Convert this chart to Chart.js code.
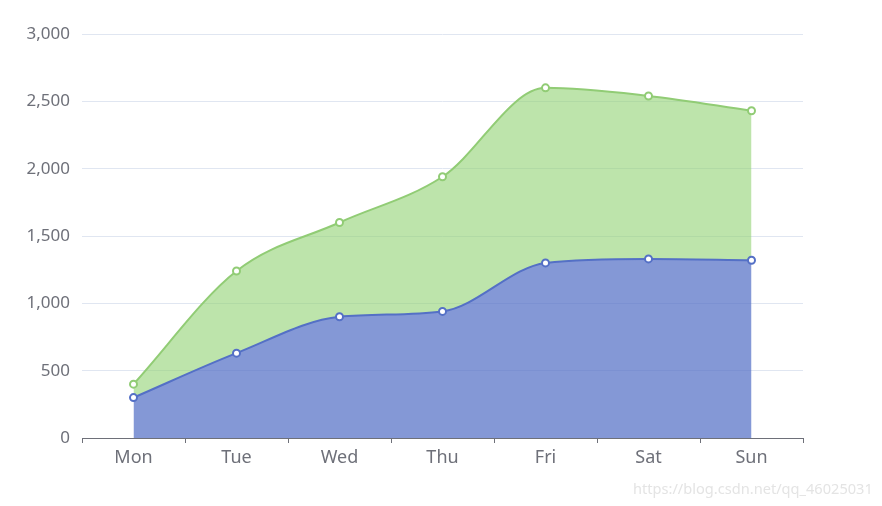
<!DOCTYPE html>
<html>
<head>
<meta charset="utf-8">
<script src="https://cdn.jsdelivr.net/npm/chart.js@4"></script>
<style>
html,body{margin:0;padding:0;background:#fff;}
#wrap{position:relative;width:882px;height:506px;}
#mark{position:absolute;left:633px;top:478px;font:14.6px "Noto Sans",sans-serif;color:#e4e4e4;white-space:nowrap;}
</style>
</head>
<body>
<div id="wrap"><canvas id="c" width="882" height="506"></canvas><div id="mark">https://blog.csdn.net/qq_46025031</div></div>
<script>
const categories = ['Mon','Tue','Wed','Thu','Fri','Sat','Sun'];
const seriesA = [300, 630, 900, 940, 1300, 1330, 1320];
const seriesB = [100, 610, 700, 1000, 1300, 1210, 1110];
const yTicks = [0, 500, 1000, 1500, 2000, 2500, 3000];

const stackedB = seriesB.map((v,i)=>v+seriesA[i]);
const FONT = '"Noto Sans", sans-serif';
const TXT = '#6E7079';

const common = {
  cubicInterpolationMode: 'monotone',
  borderWidth: 2,
  pointRadius: 3.5,
  pointBorderWidth: 2,
  pointBackgroundColor: '#fff'
};

new Chart(document.getElementById('c'), {
  type: 'line',
  data: {
    labels: categories,
    datasets: [
      Object.assign({
        data: seriesA,
        borderColor: '#5470C6',
        backgroundColor: 'rgba(84,112,198,0.72)',
        fill: 'origin',
        pointBorderColor: '#5470C6'
      }, common),
      Object.assign({
        data: stackedB,
        borderColor: '#91CC75',
        backgroundColor: 'rgba(145,210,115,0.6)',
        fill: '-1',
        pointBorderColor: '#91CC75'
      }, common)
    ]
  },
  options: {
    responsive: false,
    animation: false,
    events: [],
    layout: { padding: { left: 0, right: 79, top: 34, bottom: 0 } },
    plugins: { legend: { display: false }, tooltip: { enabled: false } },
    scales: {
      x: {
        offset: true,
        grid: { offset: true, drawOnChartArea: false, drawTicks: true, tickLength: 5, color: TXT },
        border: { color: TXT, width: 1 },
        ticks: { color: TXT, font: { family: FONT, size: 18 }, padding: 4 },
        afterFit: s => { s.height = 506 - 438; }
      },
      y: {
        min: 0, max: 3000,
        afterBuildTicks: s => { s.ticks = yTicks.map(v => ({ value: v })); },
        grid: { color: '#E0E6F1', drawTicks: false },
        border: { display: false },
        ticks: { color: TXT, font: { family: FONT, size: 17 }, padding: 12,
          callback: v => v.toLocaleString('en-US') },
        afterFit: s => { s.width = 82; }
      }
    }
  }
});
</script>
</body>
</html>
